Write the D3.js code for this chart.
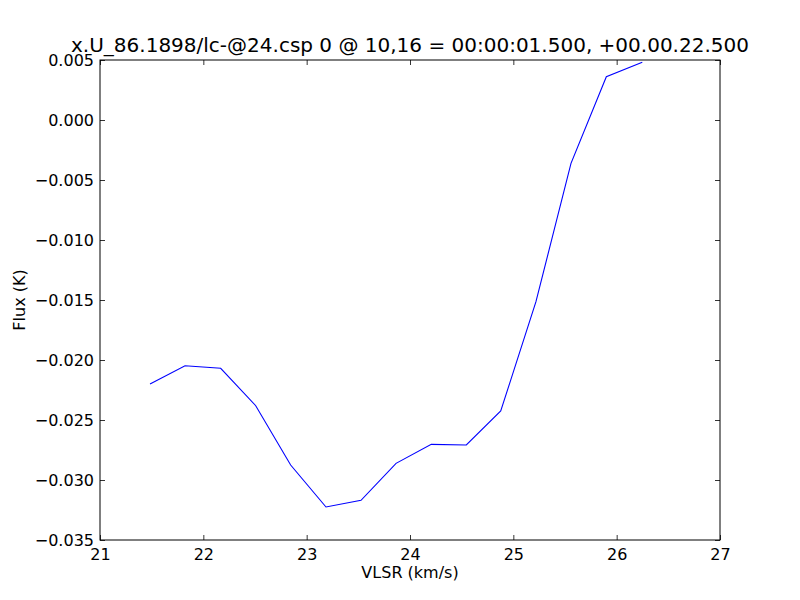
<!DOCTYPE html>
<html><head><meta charset="utf-8">
<script src="https://cdn.jsdelivr.net/npm/d3@7"></script>
<style>body{margin:0;background:#fff}svg{display:block}text{font-family:"DejaVu Sans",sans-serif;fill:#000}</style>
</head><body><svg id="c" width="800" height="600"></svg>
<script>
const title = "x.U_86.1898/lc-@24.csp 0 @ 10,16 = 00:00:01.500, +00.00.22.500";
const xLabel = "VLSR (km/s)";
const yLabel = "Flux (K)";
const velocity = [21.484, 21.823, 22.168, 22.507, 22.845, 23.187, 23.526, 23.865, 24.206, 24.545, 24.878, 25.219, 25.558, 25.900, 26.248];
const flux = [-0.0220, -0.02048, -0.02069, -0.02381, -0.02875, -0.03225, -0.03169, -0.02861, -0.02703, -0.02708, -0.02425, -0.01514, -0.00361, 0.00361, 0.00481];
const xTicks = [21, 22, 23, 24, 25, 26, 27];
const yTicks = [-0.035, -0.030, -0.025, -0.020, -0.015, -0.010, -0.005, 0.000, 0.005];

const svg = d3.select("#c");
const L = 100, R = 720, T = 60, B = 540;
const x = d3.scaleLinear().domain([21, 27]).range([L, R]);
const y = d3.scaleLinear().domain([-0.035, 0.005]).range([B, T]);
const fmtY = v => d3.format(".3f")(v).replace("-", "\u2212");
const fs = 16, tl = 5;

const g = svg.append("g");
const line = d3.line().x((d,i)=>x(velocity[i])).y(d=>y(d));
svg.append("defs").append("clipPath").attr("id","cp").append("rect").attr("x",L).attr("y",T).attr("width",R-L).attr("height",B-T);
g.append("path").datum(flux).attr("d", line).attr("fill","none").attr("stroke","#0000ff").attr("stroke-width",1.1).attr("clip-path","url(#cp)");

function styleAxis(sel){ sel.select(".domain").remove(); sel.selectAll("line").attr("stroke","#000").attr("stroke-width",0.8); sel.selectAll("text").attr("font-size",fs).attr("font-family","DejaVu Sans"); }
g.append("g").attr("transform",`translate(0,${B})`).call(d3.axisBottom(x).tickValues(xTicks).tickFormat(d3.format("d")).tickSizeInner(-tl).tickPadding(tl+4)).call(styleAxis);
g.append("g").attr("transform",`translate(0,${T})`).call(d3.axisTop(x).tickValues(xTicks).tickFormat("").tickSizeInner(-tl)).call(styleAxis);
g.append("g").attr("transform",`translate(${L},0)`).call(d3.axisLeft(y).tickValues(yTicks).tickFormat(fmtY).tickSizeInner(-tl).tickPadding(tl+1)).call(styleAxis);
g.append("g").attr("transform",`translate(${R},0)`).call(d3.axisRight(y).tickValues(yTicks).tickFormat("").tickSizeInner(-tl)).call(styleAxis);

g.append("rect").attr("x",L).attr("y",T).attr("width",R-L).attr("height",B-T).attr("fill","none").attr("stroke","#000").attr("stroke-width",1);

svg.append("text").attr("x",(L+R)/2).attr("y",52).attr("text-anchor","middle").attr("font-size",20).text(title);
svg.append("text").attr("x",(L+R)/2).attr("y",578).attr("text-anchor","middle").attr("font-size",fs).text(xLabel);
svg.append("text").attr("transform",`translate(25,${(T+B)/2}) rotate(-90)`).attr("text-anchor","middle").attr("font-size",fs).text(yLabel);
</script></body></html>
